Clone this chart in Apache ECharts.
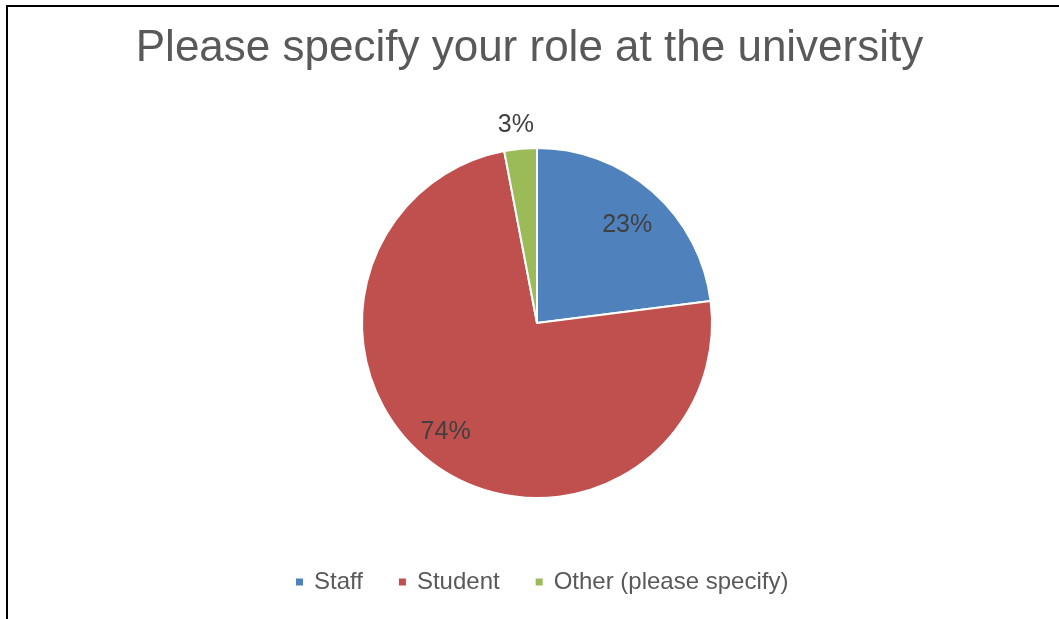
<!DOCTYPE html>
<html>
<head>
<meta charset="utf-8">
<script src="https://cdn.jsdelivr.net/npm/echarts@6/dist/echarts.min.js"></script>
<style>html,body{margin:0;padding:0;background:#fff}#c{width:1059px;height:619px}</style>
</head>
<body>
<div id="c"></div>
<script>
const categories = ['Staff', 'Student', 'Other (please specify)'];
const values = [23, 74, 3];
const colors = ['#4F81BD', '#C0504D', '#9BBB59'];
const titleText = 'Please specify your role at the university';

const FONT = '"Liberation Sans Narrow", "Arial Narrow", "Liberation Sans", sans-serif';
const chart = echarts.init(document.getElementById('c'), null, {renderer: 'canvas'});

function dataWith(fn) {
  return categories.map((n, i) => Object.assign({name: n, value: values[i]}, fn(i)));
}
const labelBase = {show: true, position: 'inside', color: '#404040', fontFamily: FONT, fontSize: 25, formatter: '{d}%'};

// transparent label-only pie for the data label of category idx
function labelSeries(idx, outer, start) {
  return {
    type: 'pie', center: [537, 323], radius: [0, outer], startAngle: start, silent: true,
    legendHoverLink: false,
    itemStyle: {color: 'rgba(0,0,0,0)'},
    label: labelBase, labelLine: {show: false},
    data: dataWith(i => i === idx ? {} : {label: {show: false}})
  };
}

chart.setOption({
  animation: false,
  title: {
    text: titleText, left: 'center', top: 22,
    textStyle: {fontFamily: FONT, fontSize: 44, fontWeight: 'normal', color: '#595959'}
  },
  legend: {
    data: categories, bottom: 20, left: 289,
    itemWidth: 9, itemHeight: 9, itemGap: 34, icon: 'rect',
    textStyle: {fontFamily: FONT, fontSize: 24, color: '#595959', padding: [0, 0, 0, 5]}
  },
  graphic: [
    {type: 'line', shape: {x1: 7, y1: 5, x2: 7, y2: 619}, style: {stroke: '#000', lineWidth: 2}},
    {type: 'line', shape: {x1: 6, y1: 6, x2: 1059, y2: 6}, style: {stroke: '#000', lineWidth: 2}}
  ],
  series: [
    {
      type: 'pie', center: [537, 323], radius: [0, 175], startAngle: 90, silent: true,
      itemStyle: {borderColor: '#fff', borderWidth: 2},
      label: {show: false}, labelLine: {show: false},
      data: dataWith(i => ({itemStyle: {color: colors[i]}}))
    },
    labelSeries(0, 260, 88.7),
    labelSeries(1, 279, 86.1),
    labelSeries(2, 393, 90.7)
  ]
});
</script>
</body>
</html>
